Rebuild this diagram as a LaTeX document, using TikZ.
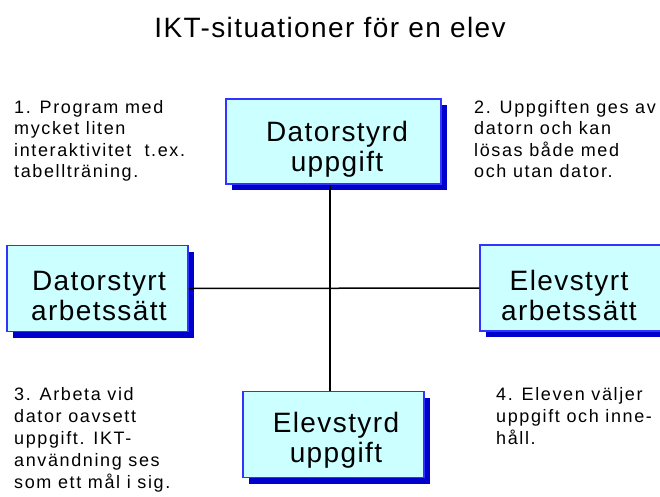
\documentclass[tikz,border=0pt]{standalone}
\usepackage{fontspec}
\setmainfont{Liberation Sans}
\usetikzlibrary{shadows}
\definecolor{boxfill}{HTML}{CCFFFF}
\definecolor{boxdraw}{HTML}{3333FF}
\definecolor{boxshadow}{HTML}{0000CC}
\begin{document}
\begin{tikzpicture}[x=1pt,y=-1pt,
  box/.style={draw=boxdraw, line width=1.5pt, fill=boxfill, inner sep=0pt,
    minimum width=181pt, minimum height=86pt,
    general shadow={fill=boxshadow, shadow xshift=6pt, shadow yshift=-6pt}},
  boxtext/.style={font=\fontsize{28}{29.5}\selectfont\addfontfeature{LetterSpace=5}, align=center, anchor=base, inner sep=0pt},
  note/.style={font=\fontsize{18}{21.5}\selectfont\addfontfeature{LetterSpace=9}, align=left, anchor=base west, inner sep=0pt},
  link/.style={line width=1.5pt, draw=black}]
\useasboundingbox (0,0) rectangle (660,496);
\node[font=\fontsize{28}{30}\selectfont\addfontfeature{LetterSpace=5}, anchor=base, inner sep=0pt] (title) at (330,37) {IKT-situationer för en elev};

\node[box, minimum width=215pt, minimum height=85pt] (top) at (333.5,141.5) {};
\node[box] (left) at (97.5,288.5) {};
\node[box] (right) at (570.5,288) {};
\node[box] (bottom) at (333.5,434.5) {};

\draw[link] ([xshift=-3.5pt]top.south) -- ([xshift=-3.5pt]bottom.north);
\draw[link] (left.east) -- (right.west);

\node[boxtext] (toptext) at (337,171) {Datorstyrd\\uppgift};
\node[boxtext] (lefttext) at (99,320) {Datorstyrt\\arbetssätt};
\node[boxtext] (righttext) at (569,320) {Elevstyrt\\arbetssätt};
\node[boxtext] (bottomtext) at (336,462) {Elevstyrd\\uppgift};

\node[note] (n1) at (14,177.5) {1. Program med\\mycket liten\\interaktivitet\ \ t.ex.\\tabellträning.};
\node[note] (n2) at (474,177.5) {2. Uppgiften ges av\\datorn och kan\\lösas både med\\och utan dator.};
\node[note, font=\fontsize{18}{22}\selectfont\addfontfeature{LetterSpace=9}] (n3) at (14,488) {3. Arbeta vid\\dator oavsett\\uppgift. IKT-\\användning ses\\som ett mål i sig.};
\node[note, font=\fontsize{18}{22}\selectfont\addfontfeature{LetterSpace=9}] (n4) at (496,444) {4. Eleven väljer\\uppgift och inne-\\håll.};
\end{tikzpicture}
\end{document}
